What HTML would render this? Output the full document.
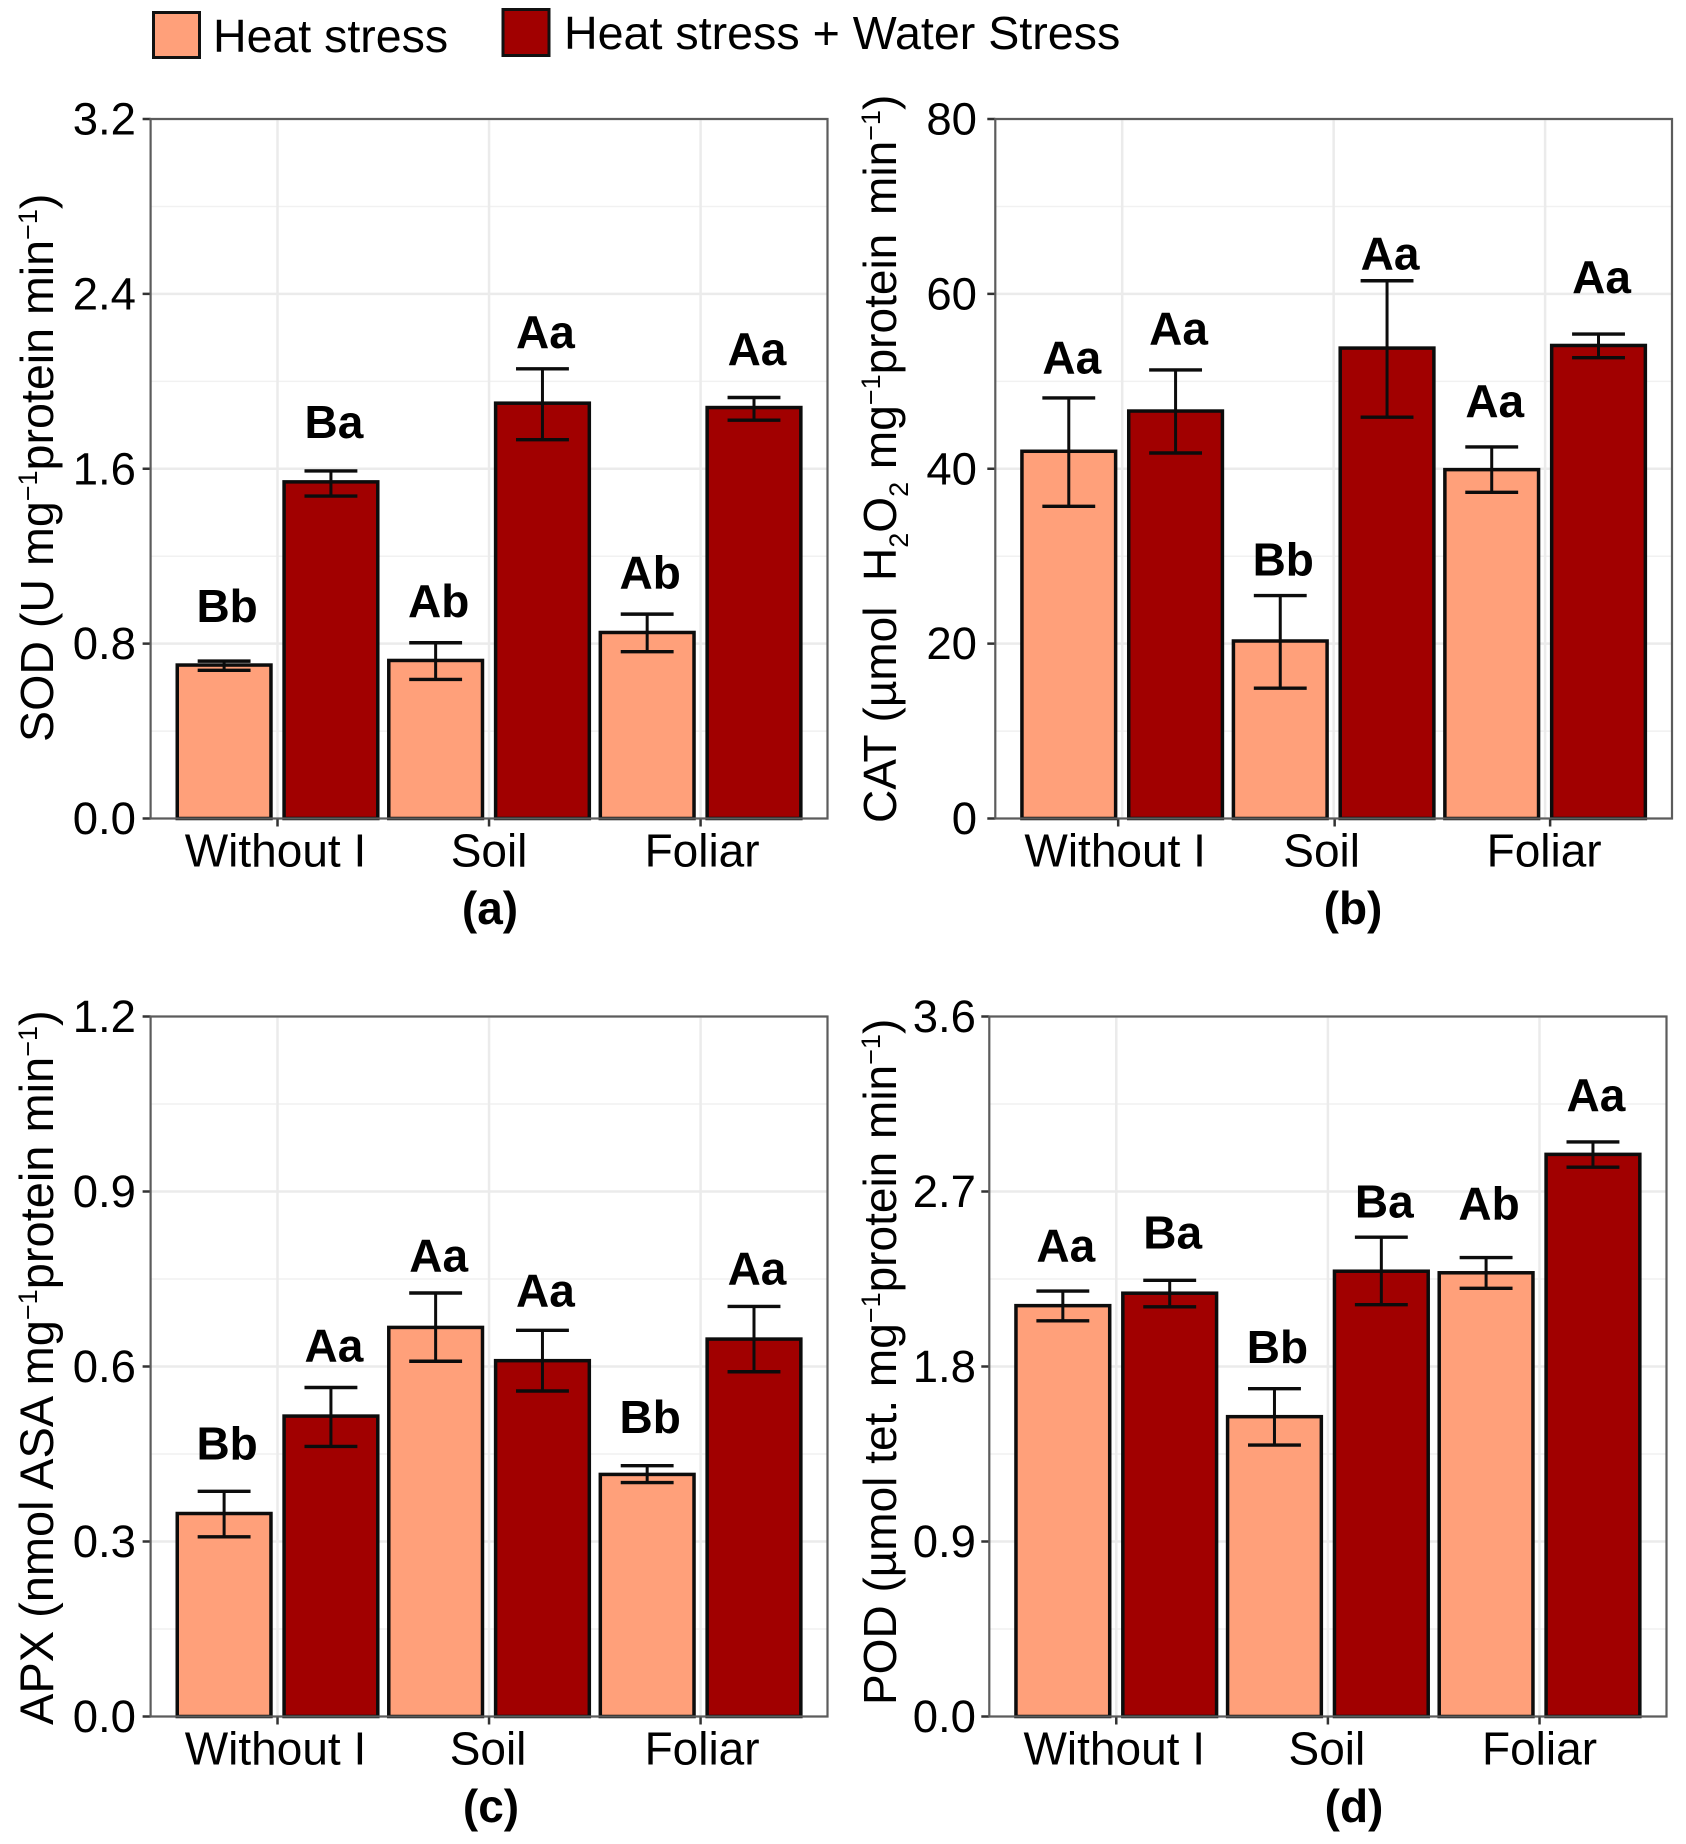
<!DOCTYPE html>
<html lang="en">
<head>
<meta charset="utf-8">
<title>Antioxidant enzyme activity under heat and water stress</title>
<style>
html,body{margin:0;padding:0;background:#fff;}
svg{display:block;font-family:"Liberation Sans",sans-serif;fill:#000;}
</style>
</head>
<body>
<svg id="figure" width="1686" height="1844" viewBox="0 0 1686 1844" xmlns="http://www.w3.org/2000/svg">
  <rect x="0" y="0" width="1686" height="1844" fill="#fff"/>
  <g>
    <rect x="153.5" y="12.5" width="46" height="45" fill="#FFA07A" stroke="#111" stroke-width="3"/>
    <text x="213" y="52" font-size="46.5">Heat stress</text>
    <rect x="503" y="9.5" width="46" height="46" fill="#A10000" stroke="#111" stroke-width="3"/>
    <text x="564" y="49" font-size="46.6">Heat stress + Water Stress</text>
  </g>
  <text font-size="46.6" transform="translate(53,742) rotate(-90)">SOD (U mg<tspan font-size="27" dy="-16">−1</tspan><tspan dy="16">protein min</tspan><tspan font-size="27" dy="-16">−1</tspan><tspan dy="16">)</tspan></text>
  <text font-size="46" transform="translate(896,823) rotate(-90)">CAT (µmol&#160;&#160;H<tspan font-size="27" dy="12">2</tspan><tspan dy="-12">O</tspan><tspan font-size="27" dy="12">2</tspan><tspan dy="-12">&#160;mg</tspan><tspan font-size="27" dy="-16">−1</tspan><tspan dy="16">protein</tspan><tspan dx="6"> min</tspan><tspan font-size="27" dy="-16">−1</tspan><tspan dy="16">)</tspan></text>
  <text font-size="47" transform="translate(53,1725) rotate(-90)">APX (nmol ASA mg<tspan font-size="27" dy="-16">−1</tspan><tspan dy="16">protein min</tspan><tspan font-size="27" dy="-16">−1</tspan><tspan dy="16">)</tspan></text>
  <text font-size="46" transform="translate(896,1705) rotate(-90)">POD (µmol tet. mg<tspan font-size="27" dy="-16">−1</tspan><tspan dy="16">protein min</tspan><tspan font-size="27" dy="-16">−1</tspan><tspan dy="16">)</tspan></text>
  <text x="490" y="924" font-size="46" font-weight="bold" text-anchor="middle">(a)</text>
  <text x="1353" y="924" font-size="46" font-weight="bold" text-anchor="middle">(b)</text>
  <text x="491" y="1822" font-size="46" font-weight="bold" text-anchor="middle">(c)</text>
  <text x="1354" y="1822" font-size="46" font-weight="bold" text-anchor="middle">(d)</text>
</svg>
<script>
// ---- Shared categories ----
const categories = ["Without I", "Soil", "Foliar"];

// ---- Panel (a) SOD ----
const sodTicks = ["0.0", "0.8", "1.6", "2.4", "3.2"];
const sodHeat = [0.702, 0.723, 0.851];
const sodHeatHigh = [0.72, 0.804, 0.935];
const sodHeatLow = [0.678, 0.636, 0.763];
const sodWater = [1.54, 1.90, 1.88];
const sodWaterHigh = [1.59, 2.057, 1.926];
const sodWaterLow = [1.475, 1.733, 1.822];
const sodHeatLetters = ["Bb", "Ab", "Ab"];
const sodWaterLetters = ["Ba", "Aa", "Aa"];
const sodHeatLetterY = [0.898, 0.922, 1.053];
const sodWaterLetterY = [1.74, 2.152, 2.074];

// ---- Panel (b) CAT ----
const catTicks = ["0", "20", "40", "60", "80"];
const catHeat = [42.0, 20.3, 39.9];
const catHeatHigh = [48.1, 25.5, 42.5];
const catHeatLow = [35.7, 14.9, 37.3];
const catWater = [46.6, 53.8, 54.1];
const catWaterHigh = [51.3, 61.5, 55.4];
const catWaterLow = [41.8, 45.9, 52.7];
const catHeatLetters = ["Aa", "Bb", "Aa"];
const catWaterLetters = ["Aa", "Aa", "Aa"];
const catHeatLetterY = [50.9, 27.8, 45.9];
const catWaterLetterY = [54.2, 62.8, 60.1];

// ---- Panel (c) APX ----
const apxTicks = ["0.0", "0.3", "0.6", "0.9", "1.2"];
const apxHeat = [0.348, 0.667, 0.415];
const apxHeatHigh = [0.386, 0.726, 0.43];
const apxHeatLow = [0.308, 0.609, 0.401];
const apxWater = [0.515, 0.61, 0.647];
const apxWaterHigh = [0.564, 0.662, 0.703];
const apxWaterLow = [0.463, 0.558, 0.591];
const apxHeatLetters = ["Bb", "Aa", "Bb"];
const apxWaterLetters = ["Aa", "Aa", "Aa"];
const apxHeatLetterY = [0.441, 0.763, 0.486];
const apxWaterLetterY = [0.609, 0.703, 0.741];

// ---- Panel (d) POD ----
const podTicks = ["0.0", "0.9", "1.8", "2.7", "3.6"];
const podHeat = [2.113, 1.542, 2.282];
const podHeatHigh = [2.188, 1.686, 2.36];
const podHeatLow = [2.035, 1.396, 2.202];
const podWater = [2.177, 2.29, 2.891];
const podWaterHigh = [2.243, 2.465, 2.955];
const podWaterLow = [2.107, 2.118, 2.825];
const podHeatLetters = ["Aa", "Bb", "Ab"];
const podWaterLetters = ["Ba", "Ba", "Aa"];
const podHeatLetterY = [2.34, 1.817, 2.556];
const podWaterLetterY = [2.406, 2.567, 3.115];

const NS = "http://www.w3.org/2000/svg";
const fig = document.getElementById("figure");

function mk(parent, tag, attrs, text) {
  const el = document.createElementNS(NS, tag);
  for (const k in attrs) el.setAttribute(k, attrs[k]);
  if (text !== undefined) el.textContent = text;
  parent.appendChild(el);
  return el;
}

function drawPanel(p) {
  const g = mk(fig, "g", {});
  
  

  const maxV = Number(p.ticks[p.ticks.length - 1]);
  const yScale = v => p.bottom - (v / maxV) * (p.bottom - p.top);
  const step = (p.right - p.left) / 3.2;
  const xScale = i => p.left + (0.6 + i) * step;
  const barOffset = step * 0.2525;
  const barWidth = step * 0.443;
  const capHalf = step * 0.125;

  // minor gridlines
  for (let i = 0; i < p.ticks.length - 1; i++) {
    const mid = (Number(p.ticks[i]) + Number(p.ticks[i + 1])) / 2;
    const line = mk(g, "line", {x1: p.left, x2: p.right, y1: yScale(mid), y2: yScale(mid), stroke: "#F1F1F1", "stroke-width": 1.5});
    
    
  }
  // major horizontal gridlines, y ticks, y labels
  p.ticks.forEach(t => {
    const y = yScale(Number(t));
    const grid = mk(g, "line", {x1: p.left, x2: p.right, y1: y, y2: y, stroke: "#EBEBEB", "stroke-width": 2.5});
    
    
    const tick = mk(g, "line", {x1: p.left - 8, x2: p.left, y1: y, y2: y, stroke: "#333", "stroke-width": 2.5});
    
    
    const label = mk(g, "text", {x: p.labelRight, y: y + 15.5, "font-size": 45.5, "text-anchor": "end"}, t);
    
    
  });
  // vertical gridlines, x ticks, x labels
  categories.forEach((c, i) => {
    const x = xScale(i);
    const grid = mk(g, "line", {x1: x, x2: x, y1: p.top, y2: p.bottom, stroke: "#EBEBEB", "stroke-width": 2.5});
    
    
    const tick = mk(g, "line", {x1: x + p.tickShift[i], x2: x + p.tickShift[i], y1: p.bottom, y2: p.bottom + 8, stroke: "#333", "stroke-width": 2.5});
    
    
    const label = mk(g, "text", {x: x + p.labelShift[i], y: p.bottom + 48, "font-size": 46, "text-anchor": "middle"}, c);
    
    
  });
  // bars with error bars and significance letters
  p.series.forEach((s, si) => {
    categories.forEach((c, i) => {
      const cx = xScale(i) + (si === 0 ? -barOffset : barOffset);
      const top = yScale(s.values[i]);
      const bar = mk(g, "rect", {x: cx - barWidth / 2, y: top, width: barWidth, height: p.bottom - top, fill: s.color, stroke: "#0c0c0c", "stroke-width": 3.5});
      
      

      const hi = yScale(s.high[i]);
      const lo = yScale(s.low[i]);
      const stem = mk(g, "line", {x1: cx, x2: cx, y1: hi, y2: lo, stroke: "#0c0c0c", "stroke-width": 3});
      
      
      const capTop = mk(g, "line", {x1: cx - capHalf, x2: cx + capHalf, y1: hi, y2: hi, stroke: "#0c0c0c", "stroke-width": 3.4});
      
      
      const capBottom = mk(g, "line", {x1: cx - capHalf, x2: cx + capHalf, y1: lo, y2: lo, stroke: "#0c0c0c", "stroke-width": 3.4});
      
      

      const letter = mk(g, "text", {x: cx + 3, y: yScale(s.letterY[i]), "font-size": 46, "font-weight": "bold", "text-anchor": "middle"}, s.letters[i]);
      
      
    });
  });
  // panel border
  const border = mk(g, "rect", {x: p.left, y: p.top, width: p.right - p.left, height: p.bottom - p.top, fill: "none", stroke: "#5c5c5c", "stroke-width": 2.2});
  
  
}

const HEAT = "#FFA07A";
const WATER = "#A10000";

drawPanel({name: "sod", left: 150.6, right: 827.5, top: 119, bottom: 818.5, labelRight: 136,
  ticks: sodTicks, tickShift: [0, 0, 0], labelShift: [-2, 0, 1.5],
  series: [
    {key: "heat", color: HEAT, values: sodHeat, high: sodHeatHigh, low: sodHeatLow, letters: sodHeatLetters, letterY: sodHeatLetterY},
    {key: "heat-water", color: WATER, values: sodWater, high: sodWaterHigh, low: sodWaterLow, letters: sodWaterLetters, letterY: sodWaterLetterY}
  ]});
drawPanel({name: "cat", left: 995.3, right: 1672, top: 119, bottom: 818.5, labelRight: 977,
  ticks: catTicks, tickShift: [-4, 1, 5], labelShift: [-7, -12, -1],
  series: [
    {key: "heat", color: HEAT, values: catHeat, high: catHeatHigh, low: catHeatLow, letters: catHeatLetters, letterY: catHeatLetterY},
    {key: "heat-water", color: WATER, values: catWater, high: catWaterHigh, low: catWaterLow, letters: catWaterLetters, letterY: catWaterLetterY}
  ]});
drawPanel({name: "apx", left: 150.6, right: 827.5, top: 1016.5, bottom: 1716.5, labelRight: 136,
  ticks: apxTicks, tickShift: [0, 0, 0], labelShift: [-2, -1, 1.5],
  series: [
    {key: "heat", color: HEAT, values: apxHeat, high: apxHeatHigh, low: apxHeatLow, letters: apxHeatLetters, letterY: apxHeatLetterY},
    {key: "heat-water", color: WATER, values: apxWater, high: apxWaterHigh, low: apxWaterLow, letters: apxWaterLetters, letterY: apxWaterLetterY}
  ]});
drawPanel({name: "pod", left: 989.3, right: 1666.5, top: 1016.5, bottom: 1716.5, labelRight: 976,
  ticks: podTicks, tickShift: [0, 0, 0], labelShift: [-2, -1, 0],
  series: [
    {key: "heat", color: HEAT, values: podHeat, high: podHeatHigh, low: podHeatLow, letters: podHeatLetters, letterY: podHeatLetterY},
    {key: "heat-water", color: WATER, values: podWater, high: podWaterHigh, low: podWaterLow, letters: podWaterLetters, letterY: podWaterLetterY}
  ]});
</script>
</body>
</html>
